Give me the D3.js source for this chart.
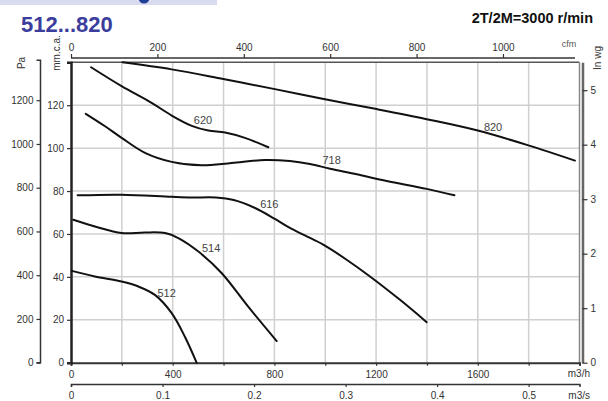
<!DOCTYPE html>
<html><head><meta charset="utf-8">
<script src="https://cdn.jsdelivr.net/npm/d3@7"></script>
<style>body{margin:0;background:#fff}svg{display:block;font-family:"Liberation Sans",Arial,sans-serif}</style>
</head><body>
<svg id="c" width="608" height="401"></svg>
<script>
// ---- data (x in m3/h, y in mm.c.a.) ----
const fanNames = ["512","514","616","620","718","820"];
const fan512 = [[3,42.8],[94,40.2],[199,37.8],[265,35.5],[330,31.6],[396,23.1],[448,12.1],[494,0]];
const fan514 = [[9,66.6],[94,63.5],[199,60.4],[291,60.7],[370,60.4],[422,58.1],[501,51.8],[593,41.7],[697,26.1],[809,10.1]];
const fan616 = [[26,78.0],[199,78.3],[396,77.3],[475,77.0],[570,77.0],[640,75.8],[724,72.1],[802,67.0],[861,62.8],[920,59.3],[992,55.0],[1084,48.0],[1176,40.2],[1294,29.3],[1399,18.9]];
const fan620 = [[79,137.7],[199,128.9],[317,121.1],[396,115.2],[475,110.4],[540,108.2],[606,107.3],[684,104.8],[776,100.4]];
const fan718 = [[58,116.0],[134,110.2],[199,104.8],[291,97.8],[396,93.6],[514,92.0],[632,93.1],[763,94.5],[861,94.0],[940,92.6],[1019,90.4],[1124,87.8],[1242,84.7],[1399,81.0],[1508,78.0]];
const fan820 = [[202,140.0],[396,136.7],[599,132.2],[802,127.5],[999,122.8],[1202,118.2],[1399,113.5],[1596,108.3],[1799,101.3],[1982,94.2]];
// label anchor positions (data coords)
const labelPos = [[376,32.5],[551,53.5],[780,74],[519,113.3],[1025,94.6],[1660,109.7]];
const paTicks = [0,200,400,600,800,1000,1200];
const mmTicks = [0,20,40,60,80,100,120];
const inTicks = [0,1,2,3,4,5];
const cfmTicks = [0,200,400,600,800,1000];
const m3hTicks = [0,400,800,1200,1600];
const m3hMinor = [0,200,400,600,800,1000,1200,1400,1600,1800,2000];
const m3sTicks = [0,0.1,0.2,0.3,0.4,0.5];

const svg = d3.select("#c");
const L = 71, R = 579.5, T = 62.3, B = 362.7;
const x = d3.scaleLinear().domain([0,2000]).range([L,R]);
const y = d3.scaleLinear().domain([0,140]).range([B,T]);
const yPa = d3.scaleLinear().domain([0,140*9.81]).range([B,T]);
const yIn = d3.scaleLinear().domain([0,140/25.4]).range([B,T]);
const xCfm = d3.scaleLinear().domain([0,2000/1.699]).range([L,R]);
const xS = d3.scaleLinear().domain([0,2000/3600]).range([L,R]);
const plain = d3.format("d");

// header band
svg.append("rect").attr("x",0).attr("y",0).attr("width",217).attr("height",5).attr("fill","#d9dcf0");
svg.append("circle").attr("cx",144).attr("cy",-2).attr("r",5.5).attr("fill","#1f3f99");
svg.append("text").attr("x",21).attr("y",31.5).attr("font-size",22).attr("font-weight","bold").attr("fill","#3b3d9c").text("512...820");
svg.append("text").attr("x",593).attr("y",23).attr("text-anchor","end").attr("font-size",14.5).attr("font-weight","bold").attr("fill","#111").text("2T/2M=3000 r/min");

// grid
const grid = svg.append("g").attr("stroke","#d0d0d0").attr("stroke-width",1.5);
m3hMinor.filter(v=>v>0&&v<2000).forEach(v=>grid.append("line").attr("x1",x(v)).attr("x2",x(v)).attr("y1",T).attr("y2",B));
mmTicks.filter(v=>v>0).forEach(v=>grid.append("line").attr("x1",L).attr("x2",R).attr("y1",y(v)).attr("y2",y(v)));

// frame
svg.append("line").attr("x1",L).attr("x2",R).attr("y1",T).attr("y2",T).attr("stroke","#555").attr("stroke-width",1.5);
svg.append("line").attr("x1",R).attr("x2",R).attr("y1",T).attr("y2",B).attr("stroke","#888").attr("stroke-width",1.5);

function style(g, size){
  g.selectAll("path.domain").attr("stroke","#333").attr("stroke-width",1.5);
  g.selectAll(".tick line").attr("stroke","#333").attr("stroke-width",1.2);
  g.selectAll(".tick text").attr("fill","#333").attr("font-size",size||10).attr("font-family","Liberation Sans, Arial, sans-serif");
}
// bottom m3/h
const gx = svg.append("g").attr("transform",`translate(0,${B})`)
  .call(d3.axisBottom(x).tickValues(m3hMinor).tickSizeOuter(0).tickSize(3).tickFormat(d=>m3hTicks.includes(d)?plain(d):""));
style(gx); gx.selectAll(".tick text").attr("dy","0.95em");
gx.select("path.domain").attr("stroke-width",2);
// bottom m3/s
const gs = svg.append("g").attr("transform","translate(0,384)")
  .call(d3.axisBottom(xS).tickValues(m3sTicks).tickSizeOuter(0).tickSize(3).tickFormat(d=>d===0?"0":d3.format(".1f")(d)));
style(gs); gs.selectAll(".tick text").attr("dy","0.85em");
// top cfm
const gc = svg.append("g").attr("transform","translate(0,58)")
  .call(d3.axisTop(xCfm).tickValues(cfmTicks).tickSizeOuter(0).tickSize(4).tickFormat(plain));
style(gc); gc.select("path.domain").attr("d",`M${L},0H575`);
// left mm
const gm = svg.append("g").attr("transform",`translate(${L},0)`)
  .call(d3.axisLeft(y).tickValues(mmTicks).tickSizeOuter(0).tickSize(4).tickFormat(plain));
style(gm); gm.select("path.domain").attr("stroke-width",2.5).attr("stroke","#222");
// left Pa
const gp = svg.append("g").attr("transform","translate(40.5,0)")
  .call(d3.axisLeft(yPa).tickValues(paTicks).tickSize(4).tickSizeOuter(4).tickFormat(plain));
style(gp); gp.select("path.domain").attr("d",`M-4,${T-2}H0V${B}H-4`);
// right in wg
const gi = svg.append("g").attr("transform","translate(582.5,0)")
  .call(d3.axisRight(yIn).tickValues(inTicks).tickSize(5).tickSizeOuter(0).tickFormat(plain));
style(gi); gi.select("path.domain").attr("stroke","#666").attr("stroke-width",2.5);

// unit labels
svg.append("text").attr("transform","translate(25,63) rotate(-90)").attr("font-size",10).attr("fill","#333").attr("text-anchor","middle").text("Pa");
svg.append("text").attr("transform","translate(60,53) rotate(-90)").attr("font-size",10).attr("fill","#333").attr("text-anchor","middle").text("mm.c.a.");
svg.append("text").attr("transform","translate(601,58) rotate(-90)").attr("font-size",10).attr("fill","#333").attr("text-anchor","middle").text("In wg");
svg.append("text").attr("x",569).attr("y",47).attr("font-size",9).attr("fill","#555").attr("text-anchor","middle").text("cfm");
svg.append("text").attr("x",590).attr("y",377).attr("font-size",10).attr("fill","#333").attr("text-anchor","end").text("m3/h");
svg.append("text").attr("x",590).attr("y",399).attr("font-size",10).attr("fill","#333").attr("text-anchor","end").text("m3/s");

// curves
const fans = [fan512,fan514,fan616,fan620,fan718,fan820];
const line = d3.line().x(d=>x(d[0])).y(d=>y(d[1])).curve(d3.curveCatmullRom.alpha(0.5));
svg.append("g").selectAll("path").data(fans).join("path")
  .attr("d",line).attr("fill","none").attr("stroke","#111").attr("stroke-width",2).attr("stroke-linecap","round");
svg.append("g").selectAll("text").data(fanNames).join("text")
  .attr("x",(d,i)=>x(labelPos[i][0])).attr("y",(d,i)=>y(labelPos[i][1]))
  .attr("text-anchor","middle").attr("dominant-baseline","central")
  .attr("font-size",11).attr("fill","#444").text(d=>d);
</script>
</body></html>
